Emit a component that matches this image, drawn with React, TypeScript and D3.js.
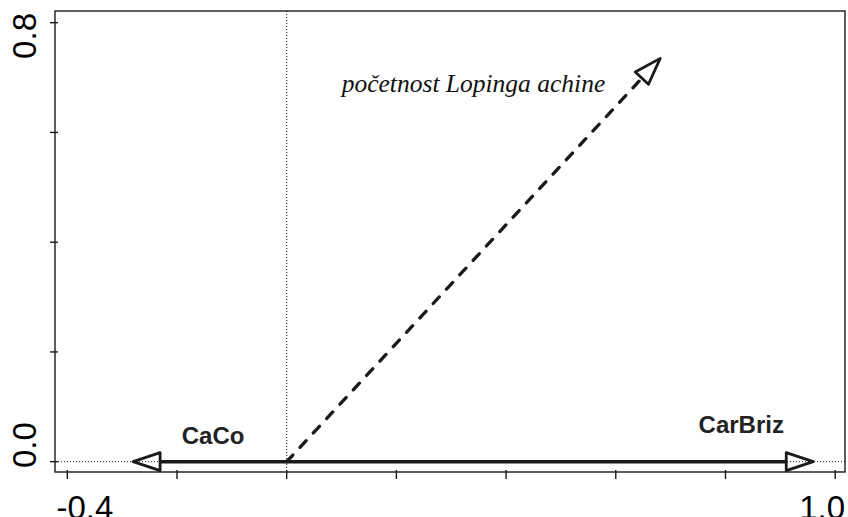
import { useEffect, useRef } from "react";
import * as d3 from "d3";

// Biplot arrows (end point of each arrow, origin is 0,0)
const arrowNames = ["CaCo", "CarBriz", "početnost Lopinga achine"];
const arrowX = [-0.28, 0.96, 0.681];
const arrowY = [0, 0, 0.735];
const arrowKind = ["env", "env", "species"];

// Axis ticks and the few that carry a label
const xTicks = [-0.4, -0.2, 0, 0.2, 0.4, 0.6, 0.8, 1.0];
const xTickLabels = ["-0.4", "1.0"];
const yTicks = [0, 0.2, 0.4, 0.6, 0.8];
const yTickLabels = ["0.0", "0.8"];

const xDomain = [-0.4224, 1.0179];
const yDomain = [-0.0188, 0.8213];

const App = () => {
	const svgRef = useRef(null);

	useEffect(() => {
		const width = 848;
		const height = 517;
		const left = 55;
		const right = 845;
		const top = 11;
		const bottom = 472;
		const ink = "#1a1a1a";

		const svg = d3.select(svgRef.current).attr("width", width).attr("height", height);
		svg.selectAll("*").remove();

		const x = d3.scaleLinear().domain(xDomain).range([left, right]);
		const y = d3.scaleLinear().domain(yDomain).range([bottom, top]);

		// dotted zero lines
		svg.append("line")
			.attr("x1", x(0)).attr("x2", x(0))
			.attr("y1", top).attr("y2", bottom)
			.attr("stroke", ink).attr("stroke-width", 1)
			.attr("stroke-dasharray", "1,2");
		svg.append("line")
			.attr("x1", left).attr("x2", right)
			.attr("y1", y(0)).attr("y2", y(0))
			.attr("stroke", ink).attr("stroke-width", 1)
			.attr("stroke-dasharray", "1,2");

		// frame
		svg.append("rect")
			.attr("x", left).attr("y", top)
			.attr("width", right - left).attr("height", bottom - top)
			.attr("fill", "none").attr("stroke", ink).attr("stroke-width", 1.4);

		// ticks
		svg.selectAll(".xtick")
			.data(xTicks)
			.enter()
			.append("line")
			.attr("x1", (d) => x(d)).attr("x2", (d) => x(d))
			.attr("y1", bottom - 2).attr("y2", bottom + 7)
			.attr("stroke", ink).attr("stroke-width", 1.4);
		svg.selectAll(".ytick")
			.data(yTicks)
			.enter()
			.append("line")
			.attr("y1", (d) => y(d)).attr("y2", (d) => y(d))
			.attr("x1", left - 5).attr("x2", left + 3)
			.attr("stroke", ink).attr("stroke-width", 1.4);

		// tick labels, pulled inside the frame at the ends
		const tickFont = "'Liberation Sans', Arial, Helvetica, sans-serif";
		svg.append("text")
			.attr("x", left + 1.5).attr("y", 519)
			.attr("text-anchor", "start")
			.attr("font-family", tickFont).attr("font-size", 33)
			.attr("fill", "#000")
			.text(xTickLabels[0]);
		svg.append("text")
			.attr("x", right).attr("y", 519)
			.attr("text-anchor", "end")
			.attr("font-family", tickFont).attr("font-size", 33)
			.attr("fill", "#000")
			.text(xTickLabels[1]);
		svg.append("text")
			.attr("transform", `translate(36,${bottom - 4}) rotate(-90)`)
			.attr("text-anchor", "start")
			.attr("font-family", tickFont).attr("font-size", 33)
			.attr("fill", "#000")
			.text(yTickLabels[0]);
		svg.append("text")
			.attr("transform", `translate(36,${top + 2}) rotate(-90)`)
			.attr("text-anchor", "end")
			.attr("font-family", tickFont).attr("font-size", 33)
			.attr("fill", "#000")
			.text(yTickLabels[1]);

		// arrows
		const headLen = 27;
		const headHalf = 9;
		const arrows = arrowNames.map((name, i) => ({
			name,
			x: arrowX[i],
			y: arrowY[i],
			kind: arrowKind[i],
		}));

		// where each label sits relative to its arrow tip (pixels)
		const labelOffsets = [
			{ dx: 80, dy: -18, anchor: "middle" },
			{ dx: -72, dy: -28.5, anchor: "middle" },
			{ dx: -55, dy: 33.5, anchor: "end" },
		];

		arrows.forEach((a, i) => {
			const x0 = x(0);
			const y0 = y(0);
			const tx = x(a.x);
			const ty = y(a.y);
			const len = Math.hypot(tx - x0, ty - y0);
			const ux = (tx - x0) / len;
			const uy = (ty - y0) / len;
			const bx = tx - ux * headLen;
			const by = ty - uy * headLen;
			const px = -uy;
			const py = ux;

			const line = svg.append("line")
				.attr("x1", x0).attr("y1", y0)
				.attr("x2", bx).attr("y2", by)
				.attr("stroke", ink);
			if (a.kind === "species") {
				line.attr("stroke-width", 3.3)
					.attr("stroke-dasharray", "9,10.6")
					.attr("stroke-linecap", "round");
			} else {
				line.attr("stroke-width", 3.6);
			}

			const head = d3.path();
			head.moveTo(tx, ty);
			head.lineTo(bx + px * headHalf, by + py * headHalf);
			head.lineTo(bx - px * headHalf, by - py * headHalf);
			head.closePath();
			svg.append("path")
				.attr("d", head.toString())
				.attr("fill", "none")
				.attr("stroke", ink)
				.attr("stroke-width", 2.8)
				.attr("stroke-linejoin", "round");

			const off = labelOffsets[i];
			const label = svg.append("text")
				.attr("x", tx + off.dx)
				.attr("y", ty + off.dy)
				.attr("text-anchor", off.anchor)
				.text(a.name);
			if (a.kind === "species") {
				label.attr("font-family", "'Liberation Serif', 'Times New Roman', serif")
					.attr("font-style", "italic")
					.attr("font-size", 25.5)
					.attr("fill", "#111");
			} else {
				label.attr("font-family", tickFont)
					.attr("font-weight", "bold")
					.attr("font-size", 24)
					.attr("fill", "#222");
			}
		});
	}, []);

	return (
		<div>
			<style>{"body{margin:0}"}</style>
			<svg ref={svgRef} style={{ display: "block" }}></svg>
		</div>
	);
};

export default App;
